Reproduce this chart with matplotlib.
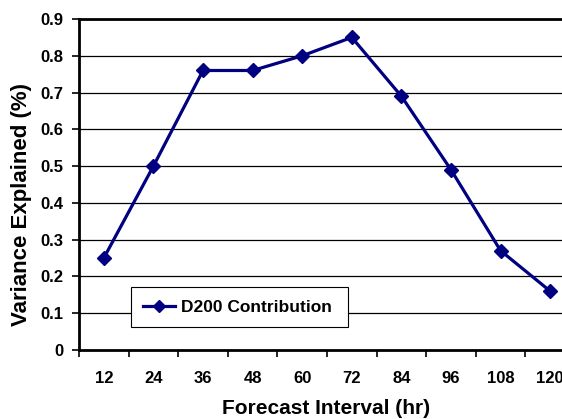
import matplotlib
matplotlib.use("Agg")
import matplotlib.pyplot as plt
from matplotlib.ticker import FixedLocator, NullFormatter

plt.rcParams['font.family'] = ['Liberation Sans', 'DejaVu Sans']
plt.rcParams['font.weight'] = 'bold'

intervals = ["12", "24", "36", "48", "60", "72", "84", "96", "108", "120"]
contribution = [0.25, 0.50, 0.76, 0.76, 0.80, 0.85, 0.69, 0.49, 0.27, 0.16]
y_ticks = [0, 0.1, 0.2, 0.3, 0.4, 0.5, 0.6, 0.7, 0.8, 0.9]
y_tick_labels = ["0", "0.1", "0.2", "0.3", "0.4", "0.5", "0.6", "0.7", "0.8", "0.9"]

W, H = 562, 419
fig = plt.figure(figsize=(W / 100, H / 100), dpi=100)
left_px, right_px, top_px, bottom_px = 79, 575, 19, 350
aw, ah = right_px - left_px, bottom_px - top_px
ax = fig.add_axes([left_px / W, 1 - bottom_px / H, aw / W, ah / H])

pos = list(range(1, len(intervals) + 1))
ax.plot(pos, contribution, color='#000080', lw=2.3, marker='D',
        markersize=7.2, markeredgecolor='#000080', markerfacecolor='#000080',
        label='D200 Contribution', zorder=5, clip_on=False)

ax.set_xlim(0.5, len(intervals) + 0.5)
ax.set_ylim(0, 0.9)

ax.set_yticks(y_ticks)
ax.set_yticklabels(y_tick_labels, fontsize=12, fontweight='bold')
ax.set_xticks(pos)
ax.set_xticklabels(intervals, fontsize=12, fontweight='bold')
ax.tick_params(axis='x', which='major', length=0, pad=15)
ax.xaxis.set_minor_locator(FixedLocator([p + 0.5 for p in range(0, len(intervals) + 1)]))
ax.xaxis.set_minor_formatter(NullFormatter())
ax.tick_params(axis='x', which='minor', length=5, width=1.2, direction='out')
ax.tick_params(axis='y', length=5, width=1.2, direction='out', pad=6)

for y in y_ticks[1:]:
    ax.axhline(y, color='black', lw=0.9, zorder=1)

ax.spines['right'].set_visible(False)
for side in ['left', 'bottom', 'top']:
    ax.spines[side].set_linewidth(2)

ax.set_xlabel('Forecast Interval (hr)', fontsize=15, fontweight='bold')
ax.xaxis.set_label_coords((326 - left_px) / aw, (bottom_px - 408) / ah)
ax.xaxis.label.set_va('center')
ax.set_ylabel('Variance Explained (%)', fontsize=16, fontweight='bold')
ax.yaxis.set_label_coords((22 - left_px) / aw, (bottom_px - 205) / ah)
ax.yaxis.label.set_va('center')

leg_x0, leg_x1, leg_y0, leg_y1 = 131, 348, 283, 331
leg = ax.legend(loc='center',
                bbox_to_anchor=((leg_x0 - left_px) / aw, (bottom_px - leg_y1) / ah,
                                (leg_x1 - leg_x0) / aw, (leg_y1 - leg_y0) / ah),
                mode='expand', frameon=True, fancybox=False, edgecolor='black',
                framealpha=1, prop={'weight': 'bold', 'size': 12.5},
                handlelength=1.85, handletextpad=0.35, borderpad=0.7,
                borderaxespad=0, markerscale=0.8)
leg.get_frame().set_linewidth(0.8)

fig.savefig('out.png', dpi=100)
